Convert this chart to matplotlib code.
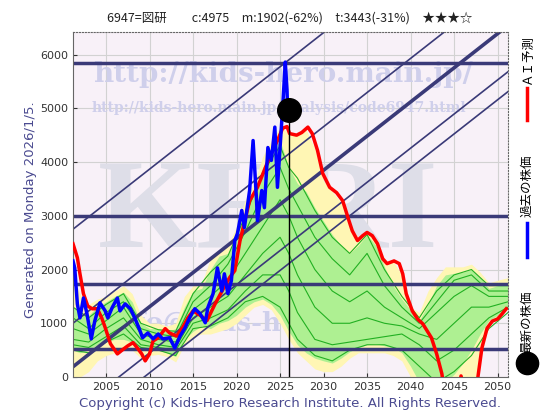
import matplotlib
matplotlib.use('Agg')
import matplotlib.pyplot as plt
from matplotlib.lines import Line2D
import numpy as np

# ---- data ----
title = '6947=図研　　c:4975　m:1902(-62%)　t:3443(-31%)　★★★☆'
generated = 'Generated on Monday 2026/1/5.'
copyright_txt = 'Copyright (c) Kids-Hero Research Institute. All Rights Reserved.'

now_year = 2026.0
now_price = 4975

# past stock price (blue)
blue_years = [2001.2, 2001.4, 2001.7, 2002.0, 2002.4, 2002.8, 2003.3, 2003.7, 2004.3, 2004.9,
              2005.2, 2005.7, 2006.3, 2006.6, 2007.2, 2007.8, 2008.3, 2008.9, 2009.2, 2009.8,
              2010.4, 2011.0, 2011.5, 2012.3, 2012.9, 2013.5, 2014.1, 2014.6, 2015.2, 2015.8,
              2016.4, 2016.7, 2017.3, 2017.8, 2018.3, 2018.6, 2019.0, 2019.4, 2019.8, 2020.1,
              2020.6, 2020.9, 2021.5, 2021.9, 2022.3, 2022.4, 2022.9, 2023.2, 2023.6, 2024.0,
              2024.4, 2024.7, 2025.0, 2025.3, 2025.6, 2025.8, 2025.9, 2026.0]
blue_price = [2160, 2030, 1360, 1100, 1470, 1180, 710, 1040, 1380, 1230,
              1100, 1290, 1470, 1230, 1360, 1270, 1100, 860, 730, 820,
              710, 800, 710, 730, 540, 760, 920, 1100, 1270, 1180,
              1010, 1290, 1550, 2030, 1600, 1920, 1550, 1790, 2540, 2670,
              3100, 2780, 3470, 4400, 3280, 2910, 3470, 3150, 4270, 4030,
              4650, 3530, 4270, 5020, 5860, 5340, 4780, 4975]

# AI prediction (red)
red_years = [2001.2, 2001.7, 2002.0, 2002.4, 2002.9, 2003.4, 2004.0, 2004.5, 2004.9, 2005.5,
             2006.3, 2007.0, 2007.5, 2008.1, 2008.6, 2009.1, 2009.5, 2010.0, 2010.4, 2011.0,
             2011.8, 2012.3, 2013.1, 2013.8, 2014.4, 2015.0, 2015.8, 2016.6, 2017.5, 2018.5,
             2019.2, 2019.8, 2020.4, 2021.5, 2022.4, 2023.8, 2024.7, 2025.3, 2025.8, 2026.1,
             2026.9, 2027.5, 2028.2, 2028.7, 2029.3, 2029.9, 2030.7, 2031.5, 2032.2, 2032.8,
             2033.3, 2033.9, 2034.5, 2035.0, 2035.6, 2036.2, 2036.8, 2037.3, 2038.1, 2038.7,
             2039.1, 2039.5, 2040.2, 2040.8, 2041.4, 2041.9, 2042.4, 2043.0, 2043.6, 2044.0,
             2044.8, 2045.4, 2045.8, 2046.3, 2047.0, 2047.7, 2048.2, 2048.8, 2049.4, 2050.0,
             2050.5, 2051.0]
red_price = [2480, 2220, 1920, 1550, 1320, 1270, 1270, 1100, 920, 620,
             430, 520, 580, 640, 540, 430, 300, 430, 670, 730,
             900, 820, 760, 920, 1100, 1230, 1150, 1050, 1350, 1650,
             1850, 1980, 2540, 3280, 3530, 4090, 4400, 4630, 4660, 4530,
             4500, 4550, 4650, 4530, 4220, 3790, 3530, 3430, 3280, 2970,
             2720, 2540, 2630, 2690, 2630, 2480, 2200, 2110, 2160, 2110,
             1920, 1550, 1230, 1080, 990, 860, 730, 430, 60, -400,
             -700, -300, 20, -300, -600, -50, 540, 910, 1040, 1080,
             1170, 1270]

# envelopes of the scenario band
band_years = [2001.2, 2002, 2003, 2004, 2005, 2006, 2007, 2008, 2009, 2010,
              2011, 2012, 2013, 2014, 2015, 2016, 2017, 2018, 2019, 2020,
              2021, 2022, 2023, 2024, 2025, 2026, 2027, 2028, 2029, 2030,
              2031, 2032, 2033, 2034, 2035, 2036, 2037, 2038, 2039, 2040,
              2041, 2042, 2043, 2044, 2045, 2046, 2047, 2048, 2049, 2050, 2051.2]
yellow_hi = [1850, 1550, 1350, 1450, 1500, 1600, 1700, 1550, 1150, 1000,
             1000, 950, 1000, 1500, 1700, 1750, 2200, 2350, 2450, 2800,
             3300, 3600, 4100, 4400, 4650, 4550, 4500, 4600, 4250, 3650,
             3450, 3250, 2800, 2600, 2680, 2550, 2150, 2150, 1900, 1300,
             1200, 1600, 1850, 2050, 2050, 2050, 2100, 1950, 1750, 1800, 1850]
green_hi = [1300, 1200, 1150, 1300, 1400, 1500, 1580, 1400, 1000, 900,
            900, 850, 900, 1300, 1600, 1650, 2000, 2250, 2300, 2600,
            3100, 3400, 3900, 4200, 4400, 3900, 3600, 3450, 3150, 2900,
            2650, 2450, 2300, 2450, 2650, 2450, 2050, 1700, 1450, 1250,
            1050, 1350, 1700, 1900, 1930, 1950, 2000, 1850, 1650, 1700, 1750]
green_lo = [500, 450, 500, 600, 650, 700, 700, 650, 500, 500,
            500, 450, 380, 700, 850, 950, 900, 1000, 1050, 1150,
            1300, 1400, 1450, 1350, 1150, 850, 600, 450, 350, 300,
            260, 350, 470, 550, 600, 620, 580, 550, 450, 200,
            -100, -200, -200, -100, 50, 250, 500, 800, 1050, 1150, 1300]
yellow_lo = [0, 0, 100, 300, 400, 450, 500, 500, 350, 400,
             420, 380, 280, 600, 750, 800, 800, 850, 900, 1000,
             1150, 1300, 1350, 1250, 1000, 700, 450, 300, 150, 100,
             100, 200, 350, 450, 450, 450, 450, 400, 300, 0,
             -200, -300, -300, -300, -300, -300, -500, 300, 1000, 1080, 1270]

# individual scenario lines (green)
gl_years = [2001.2, 2003, 2005, 2007, 2009, 2011, 2013, 2015, 2017, 2019,
            2021, 2023, 2025, 2026, 2027, 2029, 2031, 2033, 2035, 2037,
            2039, 2041, 2043, 2045, 2047, 2049, 2051.2]
g1 = [1300, 1100, 1350, 1550, 1000, 880, 850, 1550, 1950, 2250, 3000, 3800, 4300, 3900,
      3700, 3100, 2600, 2300, 2650, 2000, 1500, 1100, 1600, 1900, 2000, 1700, 1700]
g2 = [1100, 900, 1200, 1400, 900, 800, 750, 1400, 1700, 2100, 2700, 3400, 3900, 3500,
      3200, 2600, 2200, 1900, 2300, 1700, 1300, 1000, 1400, 1800, 1900, 1600, 1600]
g3 = [900, 800, 1050, 1300, 800, 700, 650, 1250, 1500, 1800, 2300, 2800, 3300, 3000,
      2600, 2000, 1600, 1400, 1600, 1300, 1100, 900, 1200, 1500, 1700, 1500, 1500]
g4 = [700, 650, 900, 1100, 700, 600, 550, 1100, 1300, 1500, 1900, 2300, 2600, 2300,
      1900, 1300, 1000, 1000, 1100, 1000, 950, 800, 700, 1000, 1300, 1300, 1400]
g5 = [600, 550, 750, 950, 600, 550, 500, 1000, 1100, 1250, 1600, 1900, 1900, 1600,
      1200, 700, 600, 650, 700, 750, 800, 600, 300, 500, 800, 1100, 1300]
g6 = [500, 450, 650, 800, 550, 500, 400, 900, 950, 1100, 1400, 1500, 1300, 1000,
      700, 400, 300, 500, 600, 600, 500, 200, -100, 100, 400, 900, 1200]

# support / resistance levels
h_levels = [5845, 3000, 1735, 522]
# trend channel: value at 2026 and slope per year
chan_at_now = [5900, 4150, 3340, 2480, 2110]
chan_width = [1.2, 1.2, 2.6, 1.2, 1.2]
chan_slope = 127

# ---- drawing ----
navy = '#3a3a78'
fig = plt.figure(figsize=(5.6, 4.2), dpi=100)
ax = fig.add_axes([73/560, 43/420, 435/560, 345/420])
ax.set_facecolor('#f8f1f8')
ax.set_xlim(2001.2, 2051.2)
ax.set_ylim(0, 6420)

ax.set_xticks(range(2005, 2051, 5))
ax.set_yticks(range(0, 6001, 1000))
ax.grid(True, color='#d2d2d2', lw=0.8)
ax.set_axisbelow(True)
ax.tick_params(labelsize=8, colors='#333333', direction='in', length=3)
for s in ax.spines.values():
    s.set_color('#666666')
    s.set_linewidth(0.8)
ax.spines['top'].set_linestyle(':')
ax.spines['right'].set_linestyle(':')

# watermarks
wm = dict(transform=fig.transFigure, zorder=0.6, fontweight='bold', family='DejaVu Serif')
ax.text(98/560, 1 - 247/420, 'KHRI', color='#dedee8', fontsize=92,
        ha='left', va='baseline', transform=fig.transFigure, zorder=0.6,
        fontweight='bold', family='Liberation Serif')
ax.text(283/560, 1 - 75/420, 'http://kids-hero.main.jp/', color='#cfcfeb',
        fontsize=20, ha='center', va='center', **wm)
ax.text(279/560, 1 - 108/420, 'http://kids-hero.main.jp/analysis/code6947.html',
        color='#cfcfeb', fontsize=10, ha='center', va='center', **wm)
ax.text(105/560, 1 - 324/420, 'info@kids-hero.main.jp', color='#cfcfeb',
        fontsize=19, ha='left', va='center', **wm)

# scenario band
ax.fill_between(band_years, yellow_lo, yellow_hi, color='#fff6b4', lw=0, zorder=1)
ax.fill_between(band_years, green_lo, green_hi, color='#aef092', lw=0, zorder=1.1)
for g in [g1, g2, g3, g4, g5, g6]:
    ax.plot(gl_years, g, color='#22b022', lw=0.8, zorder=1.2)

# channel and level lines
xs = np.array([2001.2, 2051.2])
for v0, w in zip(chan_at_now, chan_width):
    ax.plot(xs, v0 + chan_slope * (xs - now_year), color=navy, lw=w, zorder=2)
for h in h_levels:
    ax.axhline(h, color=navy, lw=2.5, zorder=2)

ax.plot(red_years, red_price, color='#ff0000', lw=2.5, zorder=3)
ax.plot(blue_years, blue_price, color='#0000ff', lw=2.5, zorder=3.1)
ax.plot([now_year, now_year], [0, now_price], color='black', lw=1, zorder=3.2)
ax.plot([now_year], [now_price], 'o', color='black', ms=17, zorder=4)

# texts around the chart
cjk = ['Noto Sans CJK JP', 'DejaVu Sans']
fig.text(290/560, 1 - 18/420, title, ha='center', va='center', fontsize=9,
         family=cjk, color='#222222')
fig.text(31/560, 0.5, generated, rotation=90, ha='center', va='center',
         fontsize=9.5, color='#4a4a90')
fig.text(290/560, 1 - 403/420, copyright_txt, ha='center', va='center',
         fontsize=9.5, color='#4a4a90')

# legend on the right
lx = 527/560
fig.add_artist(Line2D([lx, lx], [1 - 88/420, 1 - 120/420], color='#ff0000', lw=2.5,
                      transform=fig.transFigure))
fig.text(lx, 1 - 85/420, 'ＡＩ予測', rotation=90, ha='center', va='bottom',
         fontsize=9, family=cjk)
fig.add_artist(Line2D([lx, lx], [1 - 223/420, 1 - 257/420], color='#0000ff', lw=2.5,
                      transform=fig.transFigure))
fig.text(lx, 1 - 217/420, '過去の株価', rotation=90, ha='center', va='bottom',
         fontsize=9, family=cjk)
fig.add_artist(Line2D([lx], [1 - 363/420], marker='o', ms=16, color='black',
                      transform=fig.transFigure))
fig.text(lx, 1 - 353/420, '最新の株価', rotation=90, ha='center', va='bottom',
         fontsize=9, family=cjk)

fig.savefig('out.png', dpi=100)
